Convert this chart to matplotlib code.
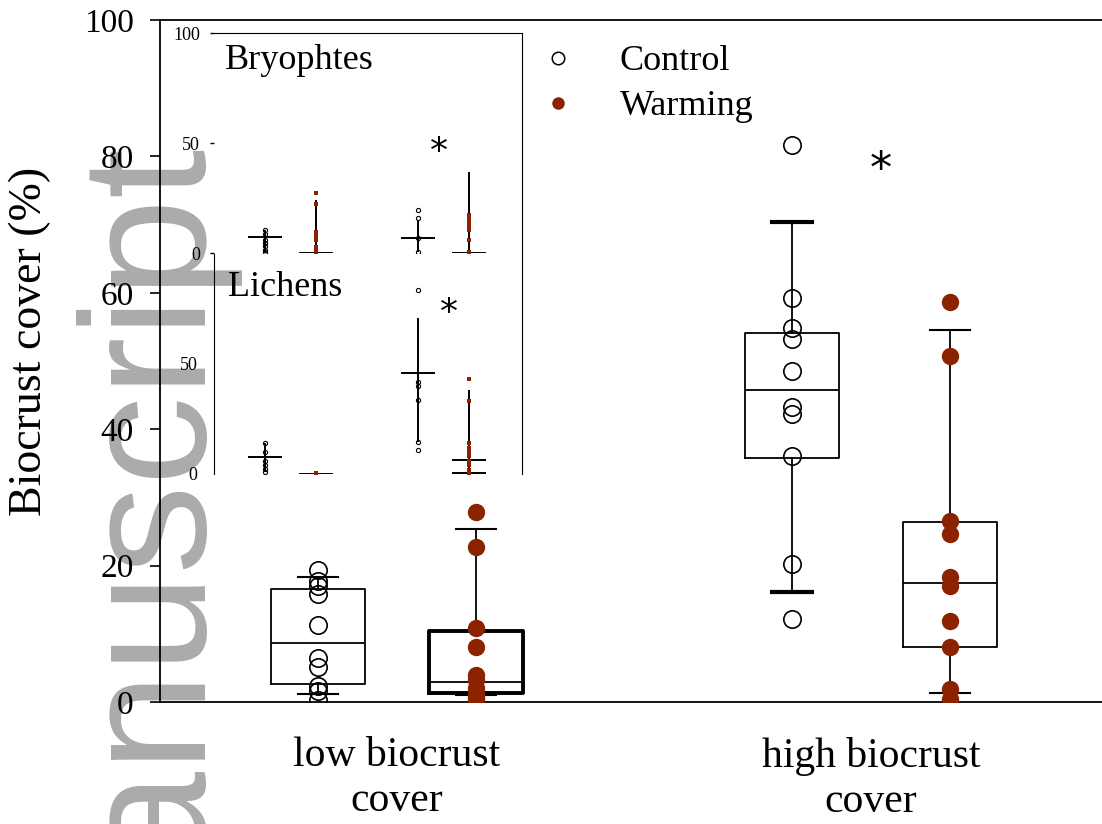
import matplotlib
matplotlib.use('Agg')
import matplotlib.pyplot as plt
from matplotlib.lines import Line2D

plt.rcParams['font.family'] = ['Liberation Serif', 'DejaVu Serif']

# ---------------- data ----------------
groups = ['low biocrust\ncover', 'high biocrust\ncover']
group_centers = [1.5, 4.5]
treatments = ['Control', 'Warming']
positions = [1, 2, 4, 5]  # low-control, low-warming, high-control, high-warming

box_q1 = [2.6, 1.3, 35.8, 8.1]
box_med = [8.7, 2.9, 45.7, 17.4]
box_q3 = [16.5, 10.4, 54.1, 26.4]
whisk_lo = [1.2, 1.0, 16.1, 1.3]
whisk_hi = [18.3, 25.4, 70.4, 54.6]

low_control = [19.4, 17.8, 17.0, 15.9, 11.3, 6.4, 5.2, 2.4, 1.6, 0.3]
low_warming = [27.9, 22.8, 10.8, 8.0, 4.0, 3.2, 2.0, 1.2, 0.8, 0.4]
high_control = [81.6, 59.3, 54.9, 53.2, 48.6, 43.3, 42.2, 36.0, 20.3, 12.1]
high_warming = [58.6, 50.8, 26.6, 24.6, 18.3, 17.0, 11.9, 8.1, 1.9, 0.4]

sig_x = [4.56]
sig_y = [78.0]

# inset: bryophytes and lichens (same positions)
inset_positions = [1, 2, 4, 5]
bryo_lines = [[7.3], [0.0], [6.8], [0.0]]
bryo_whisk_lo = [0.5, 0.0, 0.5, 0.0]
bryo_whisk_hi = [10.5, 24.0, 15.0, 37.0]
bryo_points = [[10.5, 8.6, 6.0, 4.5, 3.0, 1.5, 0.5],
               [27.3, 22.3, 9.5, 7.7, 5.9, 2.7, 1.4, 0.5],
               [19.5, 16.0, 6.8, 0.5],
               [17.3, 16.0, 14.5, 13.0, 11.5, 10.5, 5.9, 0.5]]
lich_lines = [[7.9], [0.0], [45.9], [6.4, 0.6]]
lich_whisk_lo = [1.0, 0.0, 14.7, 0.0]
lich_whisk_hi = [14.0, 0.0, 70.9, 38.0]
lich_points = [[14.0, 10.0, 6.0, 4.0, 2.5, 1.0],
               [0.5],
               [83.6, 42.0, 40.0, 33.6, 14.7, 10.9],
               [43.0, 33.3, 14.0, 12.0, 10.0, 8.0, 6.0, 4.0, 2.0, 0.5]]
bryo_sig = (4.42, 46.0)
lich_sig = (4.61, 73.0)

RED = '#8b2300'
W, H = 1102, 824

# ---------------- figure ----------------
fig = plt.figure(figsize=(W / 100, H / 100), dpi=100)
fig.patch.set_facecolor('white')

# watermark behind everything
fig.text(194 / W, 1 - 137 / H, 'manuscript', rotation=90, rotation_mode='anchor',
         ha='right', va='baseline', fontsize=128, family='Liberation Sans',
         color='#ababab', zorder=-1)

ax = fig.add_axes([160 / W, 1 - 702 / H, 948 / W, 682 / H])
ax.set_facecolor('none')

stats = []
for q1, med, q3, lo, hi in zip(box_q1, box_med, box_q3, whisk_lo, whisk_hi):
    stats.append(dict(q1=q1, med=med, q3=q3, whislo=lo, whishi=hi, fliers=[]))

bp = ax.bxp(stats, positions=positions, widths=0.6, capwidths=0.25,
            showfliers=False, patch_artist=False,
            boxprops=dict(color='black', linewidth=1.3),
            medianprops=dict(color='black', linewidth=1.3),
            whiskerprops=dict(color='black', linewidth=1.3),
            capprops=dict(color='black', linewidth=1.5))
# emphasised elements as in the original
bp['boxes'][1].set_linewidth(2.8)
bp['caps'][4].set_linewidth(3)
bp['caps'][5].set_linewidth(3)

series = [low_control, low_warming, high_control, high_warming]
is_warm = [False, True, False, True]
for pos, vals, warm in zip(positions, series, is_warm):
    if warm:
        ax.plot([pos] * len(vals), vals, 'o', ms=12.5, mfc=RED, mec=RED, mew=0, zorder=3)
    else:
        ax.plot([pos] * len(vals), vals, 'o', ms=12.5, mfc='none', mec='black', mew=1.2, zorder=3)

for sx, sy in zip(sig_x, sig_y):
    ax.text(sx, sy, '*', ha='center', va='center', fontsize=32, family='DejaVu Sans')

ax.set_xlim(0, 6)
ax.set_ylim(0, 100)
ax.set_yticks([0, 20, 40, 60, 80, 100])
ax.tick_params(axis='y', direction='out', length=7, width=1.2, pad=12, labelsize=24)
ax.set_xticks(group_centers)
ax.set_xticklabels(groups, fontsize=30, linespacing=1.22)
ax.tick_params(axis='x', length=0, pad=25)
for s in ['left', 'top', 'bottom']:
    ax.spines[s].set_linewidth(1.3)
ax.spines['right'].set_visible(False)
ax.set_ylabel('Biocrust cover (%)', fontsize=33)
ax.yaxis.set_label_coords(-0.115, 0.528)

handles = [Line2D([], [], ls='', marker='o', ms=9, mfc='none', mec='black', mew=1.1),
           Line2D([], [], ls='', marker='o', ms=9, mfc=RED, mec=RED, mew=0)]
ax.legend(handles, treatments, loc='upper left', bbox_to_anchor=(540 / W, 1 - 45 / H),
          bbox_transform=fig.transFigure, frameon=False, fontsize=26,
          handlelength=1.0, handletextpad=1.2, labelspacing=0.33,
          borderpad=0, borderaxespad=0)

# ---------------- inset ----------------
def draw_inset(axi, lines, wlo, whi, pts):
    for pos, ls, lo, hi, p, warm in zip(inset_positions, lines, wlo, whi, pts, is_warm):
        axi.vlines(pos, lo, hi, color='black', lw=1.4)
        for yv in ls:
            axi.hlines(yv, pos - 0.33, pos + 0.33, color='black', lw=1.4)
        if warm:
            axi.plot([pos] * len(p), p, 's', ms=3.5, mfc=RED, mec=RED, mew=0, zorder=3)
        else:
            axi.plot([pos] * len(p), p, 'o', ms=3, mfc='none', mec='black', mew=0.8, zorder=3)
    axi.set_xlim(0, 6.04)
    axi.set_ylim(0, 100)
    axi.set_xticks([])
    axi.set_facecolor('none')


axb = fig.add_axes([214 / W, 1 - 253 / H, 308 / W, 220 / H])
draw_inset(axb, bryo_lines, bryo_whisk_lo, bryo_whisk_hi, bryo_points)
axb.spines['left'].set_visible(False)
axb.spines['bottom'].set_visible(False)
axb.set_yticks([0, 50, 100])
axb.tick_params(axis='y', direction='out', length=3, width=1, pad=7, labelsize=13)
axb.text(0.036, 0.875, 'Bryophtes', transform=axb.transAxes, fontsize=26, va='center', ha='left')
axb.text(bryo_sig[0], bryo_sig[1], '*', ha='center', va='center', fontsize=26, family='DejaVu Sans')

axl = fig.add_axes([214 / W, 1 - 474 / H, 308 / W, 220 / H])
draw_inset(axl, lich_lines, lich_whisk_lo, lich_whisk_hi, lich_points)
axl.spines['top'].set_visible(False)
axl.spines['bottom'].set_visible(False)
axl.set_yticks([0, 50])
axl.tick_params(axis='y', direction='out', length=0, pad=12, labelsize=13)
axl.text(0.045, 0.85, 'Lichens', transform=axl.transAxes, fontsize=26, va='center', ha='left')
axl.text(lich_sig[0], lich_sig[1], '*', ha='center', va='center', fontsize=26, family='DejaVu Sans')

fig.savefig('out.png', dpi=100, facecolor='white')
